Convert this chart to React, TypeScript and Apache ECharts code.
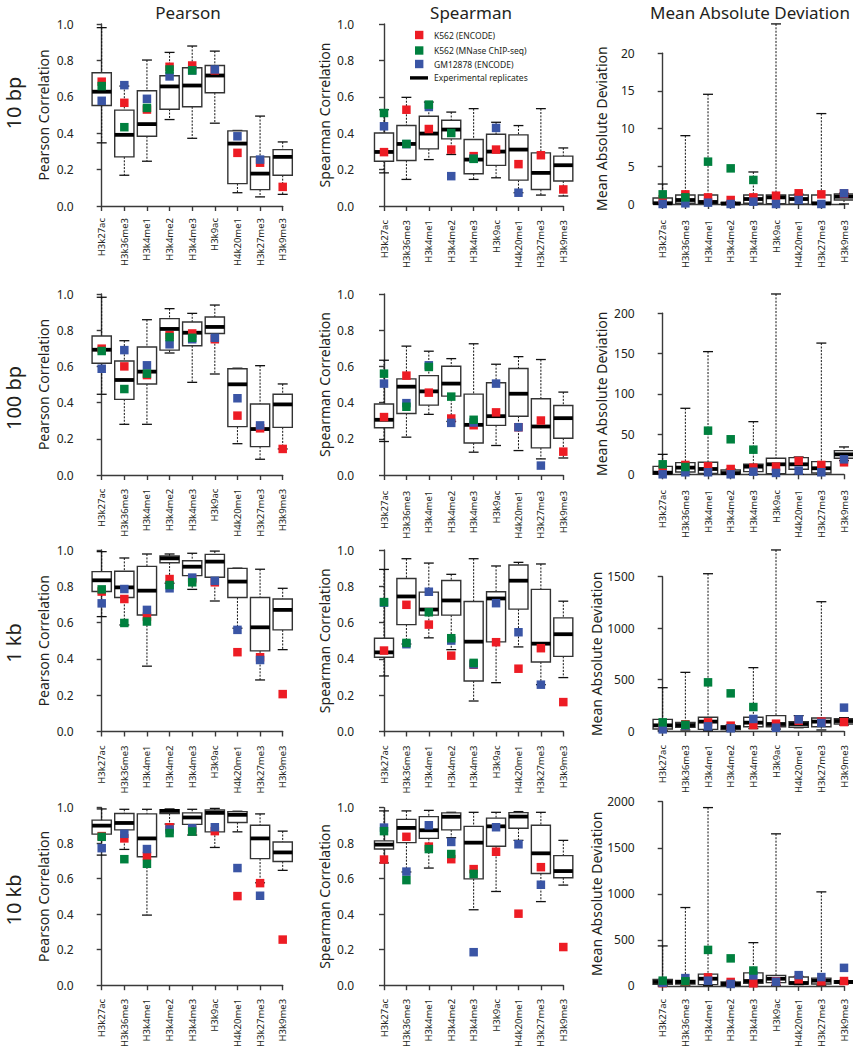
import React, { useEffect, useRef } from "react";
import * as echarts from "echarts";

const categories = ["H3k27ac", "H3k36me3", "H3k4me1", "H3k4me2", "H3k4me3", "H3k9ac", "H4k20me1", "H3k27me3", "H3k9me3"];
const columnTitles = ["Pearson", "Spearman", "Mean Absolute Deviation"];
const rowTitles = ["10 bp", "100 bp", "1 kb", "10 kb"];
const yAxisNames = ["Pearson Correlation", "Spearman Correlation", "Mean Absolute Deviation"];
const legendNames = ["K562 (ENCODE)", "K562 (MNase ChIP-seq)", "GM12878 (ENCODE)", "Experimental replicates"];
const madMax = [20, 200, 1500, 2000];
const madStep = [5, 50, 500, 500];

// box = [low whisker, q1, median, q3, high whisker]
const pearson10bpBox = [
  [0.347, 0.552, 0.628, 0.732, 0.98], [0.169, 0.27, 0.391, 0.527, 0.659], [0.246, 0.383, 0.45, 0.633, 0.802],
  [0.475, 0.532, 0.657, 0.716, 0.844], [0.372, 0.545, 0.662, 0.76, 0.879], [0.455, 0.622, 0.717, 0.772, 0.851],
  [0.073, 0.123, 0.343, 0.413, 0.415], [0.05, 0.09, 0.178, 0.27, 0.494], [0.064, 0.169, 0.27, 0.31, 0.352],
];
const pearson10bpRed = [0.683, 0.567, 0.53, 0.765, 0.772, 0.745, 0.292, 0.238, 0.105];
const pearson10bpGreen = [0.659, 0.433, 0.539, 0.75, 0.745, null, null, null, null];
const pearson10bpBlue = [0.578, 0.664, 0.589, 0.712, 0.745, 0.75, 0.383, 0.255, null];

const spearman10bpBox = [
  [0.182, 0.246, 0.297, 0.401, 0.529], [0.146, 0.25, 0.341, 0.442, 0.597], [0.255, 0.314, 0.398, 0.493, 0.571],
  [0.283, 0.369, 0.42, 0.471, 0.516], [0.146, 0.177, 0.255, 0.365, 0.535], [0.155, 0.223, 0.299, 0.394, 0.46],
  [0.073, 0.142, 0.31, 0.391, 0.442], [0.06, 0.091, 0.182, 0.292, 0.535], [0.055, 0.137, 0.224, 0.274, 0.319],
];
const spearman10bpRed = [0.296, 0.529, 0.423, 0.31, 0.274, 0.31, 0.23, 0.279, 0.091];
const spearman10bpGreen = [0.511, 0.341, 0.557, 0.401, 0.259, null, null, null, null];
const spearman10bpBlue = [0.438, 0.34, 0.544, 0.164, 0.26, 0.429, 0.073, null, null];

const mad10bpBox = [
  [0, 0.02, 0.1, 0.8, 2.65], [0, 0.1, 0.53, 1.2, 9.07], [0, 0.05, 0.27, 1.2, 14.56],
  [0, 0, 0.05, 0.2, 0.3], [0, 0.1, 0.66, 1.2, 4.25], [0, 0.05, 0.88, 1.2, 23.9],
  [0, 0.02, 0.66, 1.2, 1.3], [0, 0, 0.09, 1.2, 12.0], [0, 0.53, 0.97, 1.33, 1.42],
];
const mad10bpRed = [0.62, 1.28, 0.88, 0.53, 0.88, 1.1, 1.42, 1.28, 1.4];
const mad10bpGreen = [1.28, 0.88, 5.62, 4.73, 3.19, null, null, null, null];
const mad10bpBlue = [0, 0.09, 0.18, 0, 0.31, 0, 0.53, 0, 1.42];

const pearson100bpBox = [
  [0.446, 0.617, 0.692, 0.768, 0.982], [0.28, 0.418, 0.525, 0.63, 0.742], [0.28, 0.503, 0.571, 0.707, 0.858],
  [0.674, 0.69, 0.807, 0.864, 0.919], [0.512, 0.714, 0.786, 0.845, 0.893], [0.558, 0.782, 0.818, 0.873, 0.939],
  [0.173, 0.267, 0.501, 0.587, 0.59], [0.087, 0.157, 0.254, 0.392, 0.604], [0.144, 0.263, 0.39, 0.446, 0.503],
];
const pearson100bpRed = [0.698, 0.6, 0.552, 0.772, 0.782, 0.75, 0.328, 0.258, 0.144];
const pearson100bpGreen = [0.685, 0.475, 0.56, 0.762, 0.758, null, null, null, null];
const pearson100bpBlue = [0.587, 0.69, 0.606, 0.722, 0.75, 0.758, 0.424, 0.274, null];

const spearman100bpBox = [
  [0.185, 0.261, 0.305, 0.392, 0.634], [0.209, 0.34, 0.488, 0.531, 0.712], [0.335, 0.386, 0.462, 0.549, 0.684],
  [0.296, 0.436, 0.505, 0.601, 0.643], [0.126, 0.177, 0.277, 0.447, 0.725], [0.163, 0.274, 0.325, 0.51, 0.612],
  [0.135, 0.325, 0.449, 0.588, 0.654], [0.089, 0.15, 0.268, 0.421, 0.638], [0.094, 0.203, 0.314, 0.384, 0.458],
];
const spearman100bpRed = [0.32, 0.549, 0.455, 0.312, 0.275, 0.346, 0.264, 0.301, 0.129];
const spearman100bpGreen = [0.56, 0.377, 0.597, 0.433, 0.305, null, null, null, null];
const spearman100bpBlue = [0.505, 0.397, 0.606, 0.288, 0.29, 0.505, 0.264, 0.052, null];

const mad100bpBox = [
  [0, 0, 2, 9.9, 24.8], [0, 2.9, 8.3, 14.5, 82], [0, 1.2, 6.6, 14.9, 152.4],
  [0, 0.5, 1.5, 5.4, 6.5], [0, 3.3, 9.5, 12.4, 65.4], [0, 0.8, 12.4, 19.9, 224],
  [0, 6.2, 12.4, 20.7, 21.5], [0, 1.7, 7.5, 15.7, 163], [17, 19.9, 24.8, 29.4, 34],
];
const mad100bpRed = [6.6, 11.6, 9.9, 6.6, 8.3, 9.5, 16.6, 11.6, 14.9];
const mad100bpGreen = [12.4, 9.1, 54.2, 43.5, 30.6, null, null, null, null];
const mad100bpBlue = [0, 2.5, 2.5, 0, 3.3, 1.7, 4.6, 2.5, 18.6];

const pearson1kbBox = [
  [0.633, 0.771, 0.833, 0.881, 0.991], [0.587, 0.738, 0.794, 0.883, 0.956], [0.36, 0.642, 0.776, 0.91, 0.978],
  [0.817, 0.93, 0.954, 0.967, 0.978], [0.783, 0.859, 0.908, 0.941, 0.982], [0.719, 0.85, 0.936, 0.976, 0.994],
  [0.569, 0.738, 0.826, 0.899, 0.9], [0.284, 0.444, 0.574, 0.738, 0.894], [0.451, 0.56, 0.67, 0.73, 0.789],
];
const pearson1kbRed = [0.771, 0.73, 0.633, 0.84, 0.84, 0.822, 0.437, 0.409, 0.206];
const pearson1kbGreen = [0.783, 0.598, 0.606, 0.807, 0.822, null, null, null, null];
const pearson1kbBlue = [0.706, 0.785, 0.67, 0.789, 0.848, 0.83, 0.56, 0.394, null];

const spearman1kbBox = [
  [0.306, 0.409, 0.436, 0.514, 0.893], [0.482, 0.589, 0.744, 0.843, 0.952], [0.516, 0.641, 0.672, 0.768, 0.928],
  [0.451, 0.641, 0.722, 0.832, 0.866], [0.168, 0.278, 0.495, 0.716, 0.952], [0.269, 0.494, 0.733, 0.77, 0.912],
  [0.466, 0.674, 0.831, 0.917, 0.932], [0.258, 0.383, 0.484, 0.783, 0.923], [0.297, 0.414, 0.536, 0.626, 0.718],
];
const spearman1kbRed = [0.446, 0.698, 0.589, 0.418, 0.368, 0.492, 0.346, 0.459, 0.162];
const spearman1kbGreen = [0.713, 0.488, 0.657, 0.514, 0.378, null, null, null, null];
const spearman1kbBlue = [0.71, 0.481, 0.77, 0.501, 0.37, 0.707, 0.547, 0.258, null];

const mad1kbBox = [
  [5, 19, 55, 113, 421], [10, 36, 58, 84, 570], [2, 16, 91, 133, 1529],
  [5, 13, 36, 49, 60], [23, 42, 81, 133, 616], [19, 42, 68, 149, 1760],
  [32, 36, 68, 91, 149], [10, 42, 91, 126, 1257], [58, 68, 97, 120, 130],
];
const mad1kbRed = [49, 65, 84, 52, 58, 71, 100, 91, 87];
const mad1kbGreen = [84, 60, 473, 366, 233, null, null, null, null];
const mad1kbBlue = [16, 55, 45, 26, 117, 32, 113, 78, 227];

const pearson10kbBox = [
  [0.733, 0.851, 0.899, 0.93, 0.993], [0.765, 0.875, 0.914, 0.967, 0.991], [0.395, 0.724, 0.827, 0.965, 0.991],
  [0.908, 0.967, 0.982, 0.989, 0.993], [0.846, 0.906, 0.945, 0.971, 0.991], [0.776, 0.864, 0.971, 0.987, 0.996],
  [0.864, 0.917, 0.96, 0.978, 0.98], [0.577, 0.713, 0.827, 0.901, 0.965], [0.647, 0.697, 0.748, 0.807, 0.868],
];
const pearson10kbRed = [0.84, 0.827, 0.728, 0.89, 0.875, 0.868, 0.502, 0.575, 0.257];
const pearson10kbGreen = [0.836, 0.71, 0.684, 0.857, 0.866, null, null, null, null];
const pearson10kbBlue = [0.772, 0.853, 0.767, 0.877, 0.884, 0.89, 0.66, 0.504, null];

const spearman10kbBox = [
  [0.689, 0.767, 0.792, 0.813, 0.982], [0.638, 0.803, 0.886, 0.934, 0.982], [0.66, 0.827, 0.873, 0.95, 0.985],
  [0.831, 0.875, 0.949, 0.971, 0.974], [0.425, 0.599, 0.803, 0.895, 0.974], [0.528, 0.783, 0.895, 0.941, 0.974],
  [0.816, 0.884, 0.95, 0.972, 0.978], [0.471, 0.629, 0.743, 0.901, 0.974], [0.564, 0.605, 0.643, 0.73, 0.816],
];
const spearman10kbRed = [0.708, 0.836, 0.781, 0.71, 0.654, 0.752, 0.403, 0.665, 0.215];
const spearman10kbGreen = [0.868, 0.592, 0.767, 0.739, 0.627, null, null, null, null];
const spearman10kbBlue = [0.888, 0.64, 0.901, 0.807, 0.186, 0.89, 0.794, 0.566, null];

const mad10kbBox = [
  [7, 18, 43, 71, 434], [7, 21, 43, 60, 851], [4, 14, 78, 128, 1936],
  [4, 7, 21, 43, 50], [11, 28, 53, 142, 470], [7, 36, 78, 114, 1651],
  [14, 21, 32, 96, 103], [7, 21, 57, 85, 1021], [21, 28, 43, 57, 60],
];
const mad10kbRed = [30, 45, 93, 43, 28, 50, 71, 50, 53];
const mad10kbGreen = [57, 50, 391, 299, 167, null, null, null, null];
const mad10kbBlue = [35, 85, 57, 21, 114, 46, 117, 96, 196];

const panelData = [
  [[pearson10bpBox, pearson10bpRed, pearson10bpGreen, pearson10bpBlue], [spearman10bpBox, spearman10bpRed, spearman10bpGreen, spearman10bpBlue], [mad10bpBox, mad10bpRed, mad10bpGreen, mad10bpBlue]],
  [[pearson100bpBox, pearson100bpRed, pearson100bpGreen, pearson100bpBlue], [spearman100bpBox, spearman100bpRed, spearman100bpGreen, spearman100bpBlue], [mad100bpBox, mad100bpRed, mad100bpGreen, mad100bpBlue]],
  [[pearson1kbBox, pearson1kbRed, pearson1kbGreen, pearson1kbBlue], [spearman1kbBox, spearman1kbRed, spearman1kbGreen, spearman1kbBlue], [mad1kbBox, mad1kbRed, mad1kbGreen, mad1kbBlue]],
  [[pearson10kbBox, pearson10kbRed, pearson10kbGreen, pearson10kbBlue], [spearman10kbBox, spearman10kbRed, spearman10kbGreen, spearman10kbBlue], [mad10kbBox, mad10kbRed, mad10kbGreen, mad10kbBlue]],
];

// layout
const FONT = '"Noto Sans", "DejaVu Sans", sans-serif';
const TXT = "#231f20";
const AXIS = "#3a3a3a";
const RED = "#ed1c24";
const GREEN = "#00803e";
const BLUE = "#3a55a5";
const colLeft = [101.7, 384, 662.7];
const colWidth = [181, 179.3, 181.3];
const yAxisOffset = [20, 22, 20];
const yNameGap = [31, 31, 34];
const corrTop = [24, 294, 550, 807.7];
const corrBottom = [206, 475, 731.5, 989];
const madTop = [53.3, 313.3, 576.7, 801.7];
const madBottom = [204, 474.3, 731, 989];
const xAxisOffset = [[5, 7, 9], [6.7, 8.7, 8.7], [7, 7, 7], [6.7, 6.7, 6]];
const rowLabelY = [103, 398, 643, 900];
const titleX = [188, 471, 750];

function renderBox(params: any, api: any) {
  const i = api.value(0);
  const lo = api.coord([i, api.value(1)]);
  const q1 = api.coord([i, api.value(2)]);
  const md = api.coord([i, api.value(3)]);
  const q3 = api.coord([i, api.value(4)]);
  const hi = api.coord([i, api.value(5)]);
  const w = api.size([1, 0])[0];
  const bw = w * 0.85;
  const cw = w * 0.44;
  const x = lo[0];
  const dash = { stroke: "#111", lineWidth: 1, lineDash: [2, 1.4] };
  const solid = { stroke: "#111", lineWidth: 1.3 };
  return {
    type: "group",
    children: [
      { type: "line", shape: { x1: x, y1: hi[1], x2: x, y2: q3[1] }, style: dash },
      { type: "line", shape: { x1: x, y1: q1[1], x2: x, y2: lo[1] }, style: dash },
      { type: "line", shape: { x1: x - cw / 2, y1: hi[1], x2: x + cw / 2, y2: hi[1] }, style: solid },
      { type: "line", shape: { x1: x - cw / 2, y1: lo[1], x2: x + cw / 2, y2: lo[1] }, style: solid },
      { type: "rect", shape: { x: x - bw / 2, y: q3[1], width: bw, height: q1[1] - q3[1] }, style: { fill: "#fff", stroke: "#333", lineWidth: 1.4 } },
      { type: "line", shape: { x1: x - bw / 2, y1: md[1], x2: x + bw / 2, y2: md[1] }, style: { stroke: "#000", lineWidth: 3.8 } },
    ],
  };
}

function buildOption() {
  const grid: any[] = [];
  const xAxis: any[] = [];
  const yAxis: any[] = [];
  const series: any[] = [];
  const graphic: any[] = [];

  for (let r = 0; r < 4; r++) {
    for (let c = 0; c < 3; c++) {
      const idx = grid.length;
      const isMad = c === 2;
      const top = isMad ? madTop[r] : corrTop[r];
      const bottom = isMad ? madBottom[r] : corrBottom[r];
      grid.push({ left: colLeft[c], width: colWidth[c], top, height: bottom - top, containLabel: false });
      xAxis.push({
        type: "value", gridIndex: idx, min: 0, max: 8, interval: 1, offset: xAxisOffset[r][c],
        axisLine: { show: true, lineStyle: { color: AXIS, width: 1.4 } },
        axisTick: { show: true, length: 5, lineStyle: { color: AXIS, width: 1.4 } },
        axisLabel: { rotate: 90, fontSize: 9.5, color: TXT, fontFamily: FONT, margin: 7, formatter: (v: number) => categories[v] ?? "" },
        splitLine: { show: false },
      });
      yAxis.push({
        type: "value", gridIndex: idx, min: 0, max: isMad ? madMax[r] : 1, interval: isMad ? madStep[r] : 0.2,
        offset: yAxisOffset[c],
        name: yAxisNames[c], nameLocation: "middle", nameGap: yNameGap[c],
        nameTextStyle: { fontSize: 14, color: TXT, fontFamily: FONT },
        axisLine: { show: true, lineStyle: { color: AXIS, width: 1.4 } },
        axisTick: { show: true, length: 5, lineStyle: { color: AXIS, width: 1.4 } },
        axisLabel: { fontSize: 12, color: TXT, fontFamily: FONT, margin: 8, formatter: (v: number) => (isMad ? String(v) : v.toFixed(1)) },
        splitLine: { show: false },
      });
      const [box, red, green, blue] = panelData[r][c];
      series.push({
        type: "custom", name: legendNames[3], xAxisIndex: idx, yAxisIndex: idx, clip: false, silent: true, z: 2,
        renderItem: renderBox,
        encode: { x: 0, y: [1, 2, 3, 4, 5] },
        data: box.map((b, i) => [i, ...b]),
      });
      const pts = [[red, RED, legendNames[0]], [blue, BLUE, legendNames[2]], [green, GREEN, legendNames[1]]] as any[];
      pts.forEach(([vals, color, name], k) => {
        series.push({
          type: "scatter", name, xAxisIndex: idx, yAxisIndex: idx, clip: false, silent: true, z: 3 + k,
          symbol: "rect", symbolSize: 8.5,
          itemStyle: { color, opacity: 1 },
          data: (vals as (number | null)[]).map((v, i) => [i, v]).filter((d) => d[1] !== null),
        });
      });
    }
  }

  columnTitles.forEach((t, c) => {
    graphic.push({ type: "text", x: titleX[c], y: 12, style: { text: t, fontSize: 17, fontFamily: FONT, fill: TXT, align: "center", verticalAlign: "middle" } });
  });
  rowTitles.forEach((t, r) => {
    graphic.push({ type: "text", x: 13, y: rowLabelY[r], rotation: Math.PI / 2, style: { text: t, fontSize: 20, fontFamily: FONT, fill: TXT, align: "center", verticalAlign: "middle" } });
  });
  // legend (Spearman 10 bp panel)
  const legendColors = [RED, GREEN, BLUE];
  const legendY = [35, 50.5, 64];
  legendColors.forEach((col, k) => {
    graphic.push({ type: "rect", shape: { x: 415, y: legendY[k] - 4.2, width: 8.4, height: 8.4 }, style: { fill: col } });
    graphic.push({ type: "text", x: 434, y: legendY[k], style: { text: legendNames[k], fontSize: 8.5, fontFamily: FONT, fill: TXT, align: "left", verticalAlign: "middle" } });
  });
  graphic.push({ type: "rect", shape: { x: 410, y: 76.2, width: 18, height: 3.4 }, style: { fill: "#000" } });
  graphic.push({ type: "text", x: 434, y: 77.9, style: { text: legendNames[3], fontSize: 8.5, fontFamily: FONT, fill: TXT, align: "left", verticalAlign: "middle" } });

  return { animation: false, backgroundColor: "#fff", textStyle: { fontFamily: FONT }, grid, xAxis, yAxis, series, graphic };
}

export default function App() {
  const ref = useRef<HTMLDivElement>(null);
  useEffect(() => {
    if (!ref.current) return;
    const chart = echarts.init(ref.current, undefined, { renderer: "svg" });
    chart.setOption(buildOption() as any);
    return () => chart.dispose();
  }, []);
  return <div ref={ref} style={{ position: "absolute", left: 0, top: 0, width: 853, height: 1050, background: "#fff" }} />;
}
